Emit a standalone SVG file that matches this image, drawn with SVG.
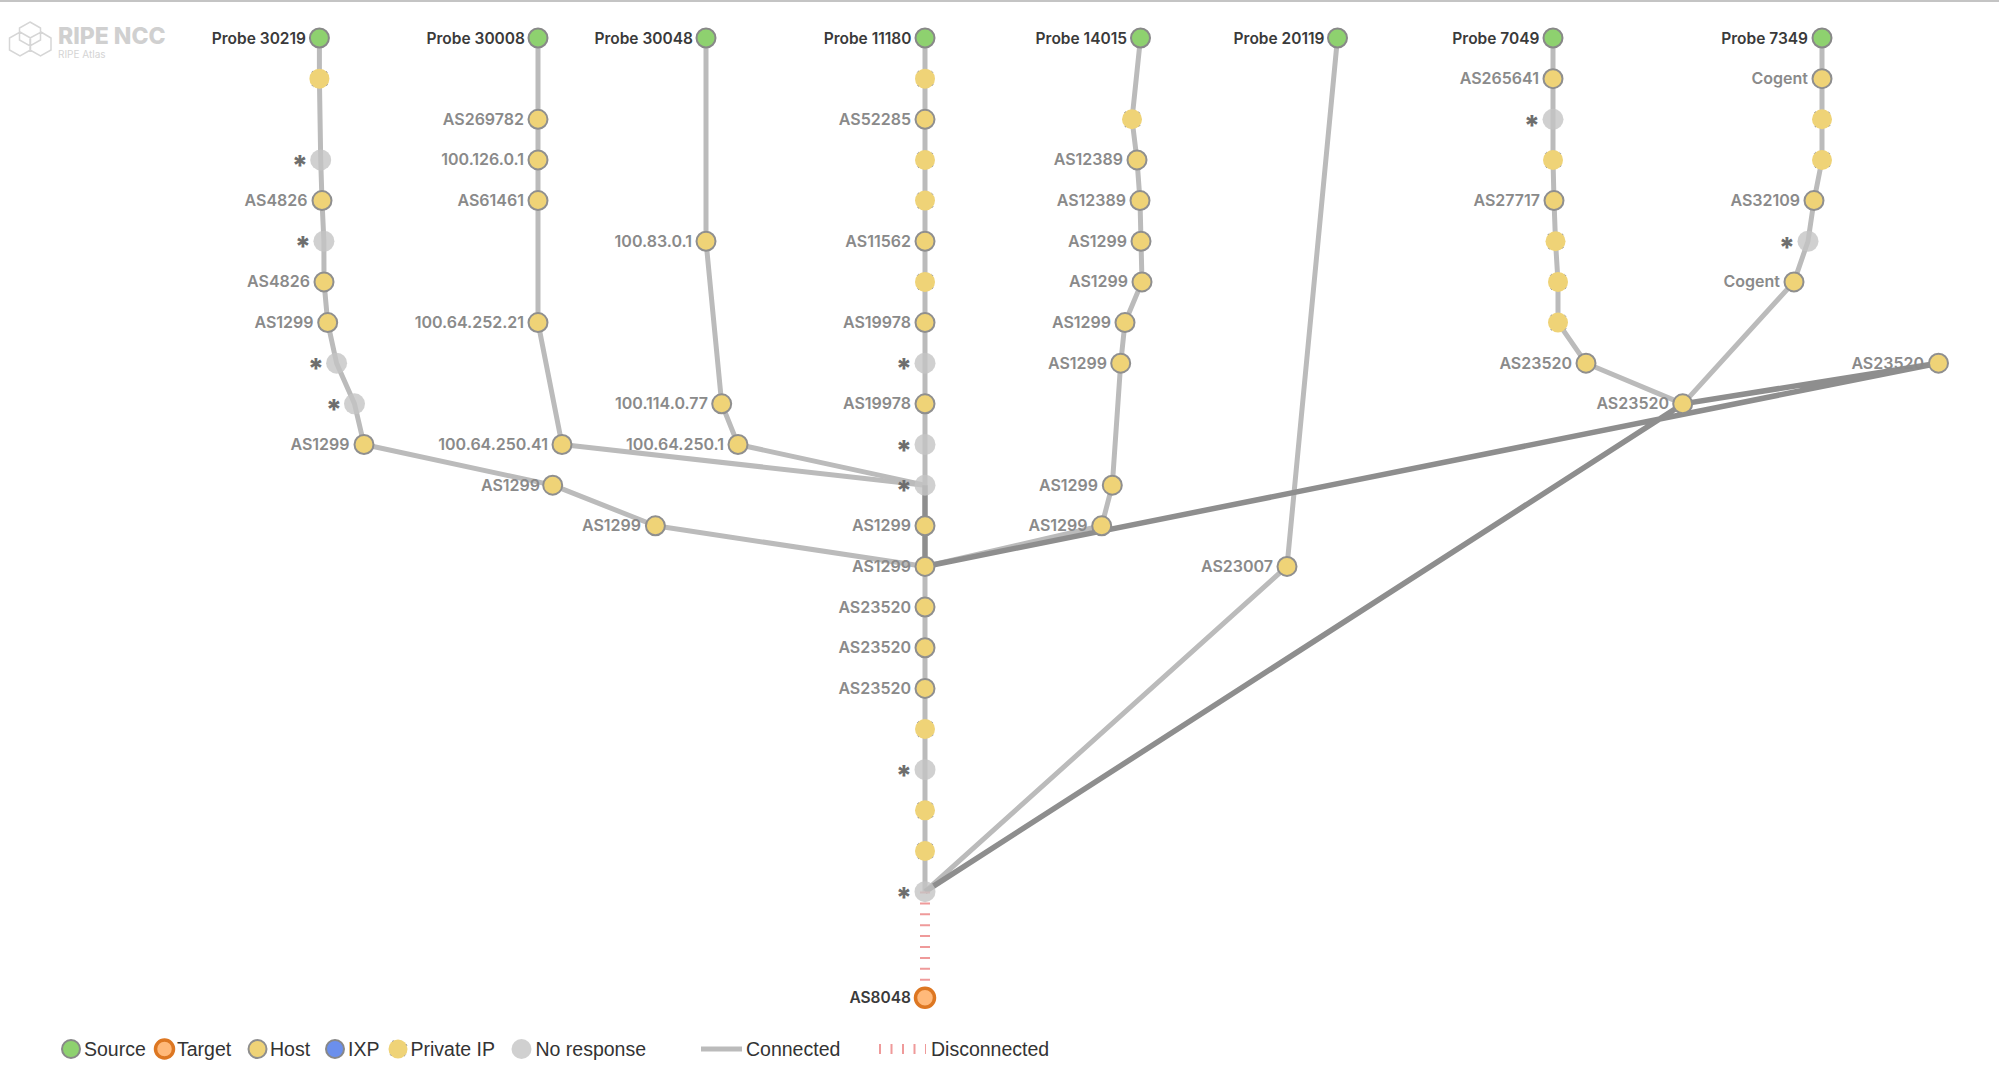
<svg xmlns="http://www.w3.org/2000/svg" width="1999" height="1090" viewBox="0 0 1999 1090">
<style>
text{font-family:"Inter","Liberation Sans",sans-serif}
.e{fill:none;stroke:#bbb;stroke-width:5;stroke-linejoin:round}
.d{fill:none;stroke:#8e8e8e;stroke-width:5.500}
.x{fill:none;stroke:#ef9a9a;stroke-width:10;stroke-dasharray:2 8.900}
.src{fill:#8ed16f;stroke:#888;stroke-width:2}
.tgt{fill:#ffb97a;stroke:#dd7722;stroke-width:3.500}
.host{fill:#efd377;stroke:#8f8f8f;stroke-width:2}
.ixp{fill:#6b8fec;stroke:#888;stroke-width:2}
.prv{fill:#efd377;stroke:#999;stroke-width:1;stroke-dasharray:2 14;stroke-dashoffset:-6}
.non{fill:#c4c4c4;fill-opacity:.8}
.l{font-size:16px;font-weight:600;fill:#8a8a8a;text-anchor:end}
.p{font-size:15.500px;font-weight:600;fill:#3a3a3a;text-anchor:end}
.s{font-size:28px;font-weight:800;fill:#6e6e6e;text-anchor:end}
.g{font-size:19.500px;font-family:"Liberation Sans",sans-serif;fill:#333}
</style>
<rect width="1999" height="1090" fill="#fff"/>
<rect width="1999" height="2" fill="#c4c4c4"/>
<g id="logo">
<path d="M30 22l10.500 6v12l-10.500 6l-10.500-6v-12zM20 32l10.500 6v12l-10.500 6l-10.500-6v-12zM41 32l10 6v12l-10.500 6l-10.500-6v-12z" fill="none" stroke="#d6d6d6" stroke-width="1.500"/>
<text x="58" y="44" font-size="23" font-weight="800" fill="#d0d0d0">RIPE NCC</text>
<text x="58" y="58" font-size="10" fill="#d4d4d4">RIPE Atlas</text>
</g>
<g id="connectors">
<polyline class="e" points="319.400,38 319.400,78.650 320.700,159.950 322,200.600 323.900,241.250 324,281.900 327.700,322.550 336.600,363.200 354.500,403.850 364,444.500 552.700,485.150 655.400,525.800 925,566.450"/>
<polyline class="e" points="538,38 538,119.300 538,159.950 538,200.600 538,322.550 562,444.500 925,485.150"/>
<polyline class="e" points="706,38 706,241.250 721.700,403.850 738,444.500 925,485.150"/>
<polyline class="e" points="925,38 925,485.150"/>
<polyline class="e" points="925,566.450 925,891.650"/>
<polyline class="e" points="1140.500,38 1132,119.300 1137,159.950 1140,200.600 1141,241.250 1142,281.900 1125,322.550 1120.700,363.200 1112.300,485.150 1101.700,525.800 925,566.450"/>
<polyline class="e" points="1337.500,38 1287,566.450 925,891.650"/>
<polyline class="e" points="1553,38 1553,159.950 1554,200.600 1555.500,241.250 1558,281.900 1558,322.550 1586,363.200 1683,403.850"/>
<polyline class="e" points="1822,38 1822,159.950 1814,200.600 1808,241.250 1794,281.900 1683,403.850"/>
<polyline class="d" points="925,485.150 925,566.450"/>
<polyline class="d" points="925,566.450 1938,363.200 1683,403.850 925,891.650"/>
<line class="x" x1="925" y1="891.500" x2="925" y2="982"/>
</g>
<g id="nodes">
<g id="p30219"><circle class="src" cx="319.400" cy="38" r="9.500"/><text class="p" x="306" y="43.500">Probe 30219</text></g>
<g id="a1"><circle class="prv" cx="319.400" cy="78.650" r="10"/></g>
<g id="a3"><circle class="non" cx="320.700" cy="159.950" r="10.500"/><text class="s" x="308" y="176">*</text></g>
<g id="a4"><circle class="host" cx="322" cy="200.600" r="9.500"/><text class="l" x="307.500" y="206">AS4826</text></g>
<g id="a5"><circle class="non" cx="323.900" cy="241.250" r="10.500"/><text class="s" x="311" y="257">*</text></g>
<g id="a6"><circle class="host" cx="324" cy="281.900" r="9.500"/><text class="l" x="310" y="287.400">AS4826</text></g>
<g id="a7"><circle class="host" cx="327.700" cy="322.550" r="9.500"/><text class="l" x="313.500" y="328">AS1299</text></g>
<g id="a8"><circle class="non" cx="336.600" cy="363.200" r="10.500"/><text class="s" x="324" y="379">*</text></g>
<g id="a9"><circle class="non" cx="354.500" cy="403.850" r="10.500"/><text class="s" x="342" y="420">*</text></g>
<g id="a10"><circle class="host" cx="364" cy="444.500" r="9.500"/><text class="l" x="349.500" y="450">AS1299</text></g>
<g id="a11"><circle class="host" cx="552.700" cy="485.150" r="9.500"/><text class="l" x="540" y="490.600">AS1299</text></g>
<g id="a12"><circle class="host" cx="655.400" cy="525.800" r="9.500"/><text class="l" x="641" y="531.300">AS1299</text></g>

<g id="p30008"><circle class="src" cx="538" cy="38" r="9.500"/><text class="p" x="525" y="43.500">Probe 30008</text></g>
<g id="b2"><circle class="host" cx="538" cy="119.300" r="9.500"/><text class="l" x="524" y="124.800">AS269782</text></g>
<g id="b3"><circle class="host" cx="538" cy="159.950" r="9.500"/><text class="l" x="524" y="165.400">100.126.0.1</text></g>
<g id="b4"><circle class="host" cx="538" cy="200.600" r="9.500"/><text class="l" x="524" y="206">AS61461</text></g>
<g id="b7"><circle class="host" cx="538" cy="322.550" r="9.500"/><text class="l" x="524" y="328">100.64.252.21</text></g>
<g id="b10"><circle class="host" cx="562" cy="444.500" r="9.500"/><text class="l" x="548" y="450">100.64.250.41</text></g>

<g id="p30048"><circle class="src" cx="706" cy="38" r="9.500"/><text class="p" x="693" y="43.500">Probe 30048</text></g>
<g id="c5"><circle class="host" cx="706" cy="241.250" r="9.500"/><text class="l" x="692" y="246.700">100.83.0.1</text></g>
<g id="c9"><circle class="host" cx="721.700" cy="403.850" r="9.500"/><text class="l" x="708" y="409.300">100.114.0.77</text></g>
<g id="c10"><circle class="host" cx="738" cy="444.500" r="9.500"/><text class="l" x="724" y="450">100.64.250.1</text></g>

<g id="p11180"><circle class="src" cx="925" cy="38" r="9.500"/><text class="p" x="911.500" y="43.500">Probe 11180</text></g>
<g id="d1"><circle class="prv" cx="925" cy="78.650" r="10"/></g>
<g id="d2"><circle class="host" cx="925" cy="119.300" r="9.500"/><text class="l" x="911" y="124.800">AS52285</text></g>
<g id="d3"><circle class="prv" cx="925" cy="159.950" r="10"/></g>
<g id="d4"><circle class="prv" cx="925" cy="200.600" r="10"/></g>
<g id="d5"><circle class="host" cx="925" cy="241.250" r="9.500"/><text class="l" x="911" y="246.700">AS11562</text></g>
<g id="d6"><circle class="prv" cx="925" cy="281.900" r="10"/></g>
<g id="d7"><circle class="host" cx="925" cy="322.550" r="9.500"/><text class="l" x="911" y="328">AS19978</text></g>
<g id="d8"><circle class="non" cx="925" cy="363.200" r="10.500"/><text class="s" x="912" y="379">*</text></g>
<g id="d9"><circle class="host" cx="925" cy="403.850" r="9.500"/><text class="l" x="911" y="409.300">AS19978</text></g>
<g id="d10"><circle class="non" cx="925" cy="444.500" r="10.500"/><text class="s" x="912" y="460.500">*</text></g>
<g id="d11"><circle class="non" cx="925" cy="485.150" r="10.500"/><text class="s" x="912" y="501">*</text></g>
<g id="d12"><circle class="host" cx="925" cy="525.800" r="9.500"/><text class="l" x="911" y="531.300">AS1299</text></g>
<g id="d13"><circle class="host" cx="925" cy="566.450" r="9.500"/><text class="l" x="911" y="572">AS1299</text></g>
<g id="d14"><circle class="host" cx="925" cy="607.100" r="9.500"/><text class="l" x="911" y="612.600">AS23520</text></g>
<g id="d15"><circle class="host" cx="925" cy="647.750" r="9.500"/><text class="l" x="911" y="653.200">AS23520</text></g>
<g id="d16"><circle class="host" cx="925" cy="688.400" r="9.500"/><text class="l" x="911" y="693.900">AS23520</text></g>
<g id="d17"><circle class="prv" cx="925" cy="729.050" r="10"/></g>
<g id="d18"><circle class="non" cx="925" cy="769.700" r="10.500"/><text class="s" x="912" y="786">*</text></g>
<g id="d19"><circle class="prv" cx="925" cy="810.350" r="10"/></g>
<g id="d20"><circle class="prv" cx="925" cy="851" r="10"/></g>
<g id="d21"><circle class="non" cx="925" cy="891.650" r="10.500"/><text class="s" x="912" y="908">*</text></g>
<g id="target"><circle class="tgt" cx="925" cy="997.700" r="9.500"/><text class="p" x="911" y="1003.200">AS8048</text></g>

<g id="p14015"><circle class="src" cx="1140.500" cy="38" r="9.500"/><text class="p" x="1127" y="43.500">Probe 14015</text></g>
<g id="e2"><circle class="prv" cx="1132" cy="119.300" r="10"/></g>
<g id="e3"><circle class="host" cx="1137" cy="159.950" r="9.500"/><text class="l" x="1123" y="165.400">AS12389</text></g>
<g id="e4"><circle class="host" cx="1140" cy="200.600" r="9.500"/><text class="l" x="1126" y="206">AS12389</text></g>
<g id="e5"><circle class="host" cx="1141" cy="241.250" r="9.500"/><text class="l" x="1127" y="246.700">AS1299</text></g>
<g id="e6"><circle class="host" cx="1142" cy="281.900" r="9.500"/><text class="l" x="1128" y="287.400">AS1299</text></g>
<g id="e7"><circle class="host" cx="1125" cy="322.550" r="9.500"/><text class="l" x="1111" y="328">AS1299</text></g>
<g id="e8"><circle class="host" cx="1120.700" cy="363.200" r="9.500"/><text class="l" x="1107" y="368.700">AS1299</text></g>
<g id="e11"><circle class="host" cx="1112.300" cy="485.150" r="9.500"/><text class="l" x="1098" y="490.600">AS1299</text></g>
<g id="e12"><circle class="host" cx="1101.700" cy="525.800" r="9.500"/><text class="l" x="1087.500" y="531.300">AS1299</text></g>

<g id="p20119"><circle class="src" cx="1337.500" cy="38" r="9.500"/><text class="p" x="1324.500" y="43.500">Probe 20119</text></g>
<g id="f13"><circle class="host" cx="1287" cy="566.450" r="9.500"/><text class="l" x="1273" y="572">AS23007</text></g>

<g id="p7049"><circle class="src" cx="1553" cy="38" r="9.500"/><text class="p" x="1539.500" y="43.500">Probe 7049</text></g>
<g id="g1"><circle class="host" cx="1553" cy="78.650" r="9.500"/><text class="l" x="1539" y="84.100">AS265641</text></g>
<g id="g2"><circle class="non" cx="1553" cy="119.300" r="10.500"/><text class="s" x="1540" y="135.500">*</text></g>
<g id="g3"><circle class="prv" cx="1553" cy="159.950" r="10"/></g>
<g id="g4"><circle class="host" cx="1554" cy="200.600" r="9.500"/><text class="l" x="1540" y="206">AS27717</text></g>
<g id="g5"><circle class="prv" cx="1555.500" cy="241.250" r="10"/></g>
<g id="g6"><circle class="prv" cx="1558" cy="281.900" r="10"/></g>
<g id="g7"><circle class="prv" cx="1558" cy="322.550" r="10"/></g>
<g id="g8"><circle class="host" cx="1586" cy="363.200" r="9.500"/><text class="l" x="1572" y="368.700">AS23520</text></g>
<g id="g9"><circle class="host" cx="1682.700" cy="403.850" r="9.500"/><text class="l" x="1669" y="409.300">AS23520</text></g>

<g id="p7349"><circle class="src" cx="1822" cy="38" r="9.500"/><text class="p" x="1808" y="43.500">Probe 7349</text></g>
<g id="h1"><circle class="host" cx="1822" cy="78.650" r="9.500"/><text class="l" x="1808" y="84.100">Cogent</text></g>
<g id="h2"><circle class="prv" cx="1822" cy="119.300" r="10"/></g>
<g id="h3"><circle class="prv" cx="1822" cy="159.950" r="10"/></g>
<g id="h4"><circle class="host" cx="1814" cy="200.600" r="9.500"/><text class="l" x="1800" y="206">AS32109</text></g>
<g id="h5"><circle class="non" cx="1808" cy="241.250" r="10.500"/><text class="s" x="1795" y="257.500">*</text></g>
<g id="h6"><circle class="host" cx="1794" cy="281.900" r="9.500"/><text class="l" x="1780" y="287.400">Cogent</text></g>

<g id="i8"><circle class="host" cx="1938.500" cy="363.200" r="9.500"/><text class="l" x="1924" y="368.700">AS23520</text></g>
</g>
<g id="legend">
<circle class="src" cx="71" cy="1049" r="9"/><text class="g" x="84" y="1055.500">Source</text>
<circle class="tgt" cx="164.500" cy="1049" r="9"/><text class="g" x="177" y="1055.500">Target</text>
<circle class="host" cx="257.500" cy="1049" r="9"/><text class="g" x="270" y="1055.500">Host</text>
<circle class="ixp" cx="335" cy="1049" r="9"/><text class="g" x="348" y="1055.500">IXP</text>
<circle class="prv" cx="398" cy="1049" r="9.500"/><text class="g" x="410.500" y="1055.500">Private IP</text>
<circle class="non" cx="521.500" cy="1049" r="10"/><text class="g" x="535.500" y="1055.500">No response</text>
<line x1="701" y1="1049" x2="742" y2="1049" stroke="#bbb" stroke-width="5"/><text class="g" x="746" y="1055.500">Connected</text>
<line x1="879" y1="1049" x2="926" y2="1049" stroke="#ef9a9a" stroke-width="10" stroke-dasharray="2 9.500"/><text class="g" x="931" y="1055.500">Disconnected</text>
</g>
</svg>
